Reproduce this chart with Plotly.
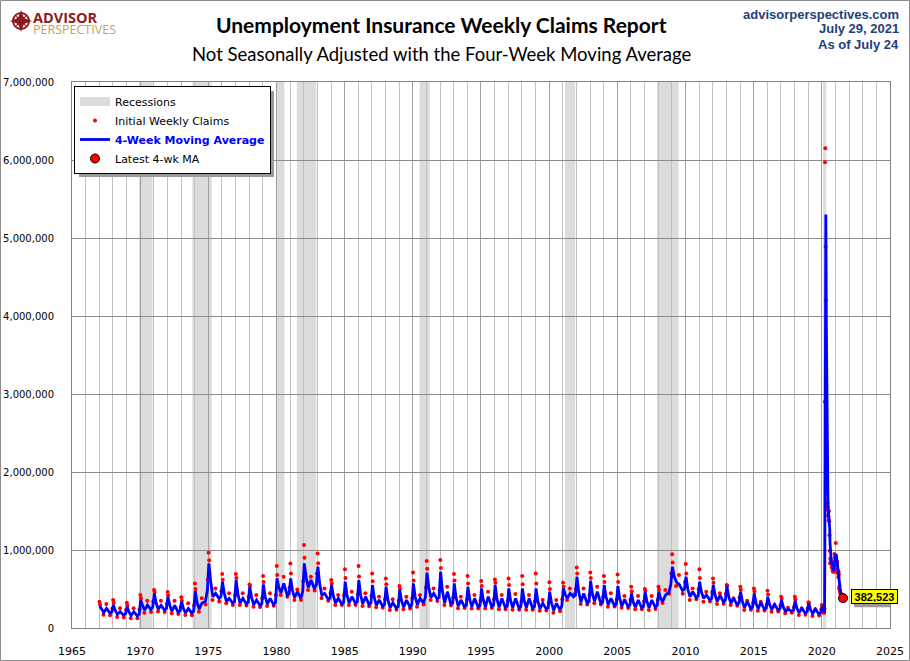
import pandas as pd
import plotly.graph_objects as go

# ---- data (values in thousands) ----
# 1967-2019: values at the seasonal turning points of each year
years = list(range(1967, 2020))

# 4-week moving average
ma_jan = [282, 295, 273, 359, 444, 401, 337, 474, 828, 594,
          615, 529, 559, 636, 636, 828, 786, 551, 594, 615,
          551, 529, 487, 572, 709, 722, 572, 529, 508, 551,
          508, 508, 508, 465, 508, 658, 606, 551, 538, 444,
          465, 465, 786, 658, 594, 551, 538, 465, 444, 401,
          359, 350, 316]
ma_mar = [235, 225, 205, 290, 320, 290, 250, 330, 600, 440,
          430, 390, 400, 520, 480, 650, 560, 410, 420, 420,
          390, 360, 350, 400, 520, 470, 390, 370, 360, 370,
          350, 350, 340, 320, 430, 460, 440, 400, 380, 330,
          340, 380, 660, 500, 460, 420, 400, 340, 320, 300,
          270, 255, 235]
ma_spring = [200, 175, 160, 230, 240, 215, 195, 240, 400, 340,
             320, 300, 305, 450, 390, 520, 420, 320, 320, 310,
             290, 260, 265, 300, 390, 320, 280, 275, 270, 265,
             260, 260, 250, 225, 380, 330, 340, 300, 280, 265,
             260, 340, 590, 400, 380, 340, 320, 260, 245, 235,
             215, 195, 185]
ma_jul = [252, 209, 209, 295, 290, 290, 250, 320, 444, 380,
          380, 359, 380, 572, 465, 615, 444, 380, 402, 402,
          359, 325, 359, 380, 444, 465, 359, 380, 402, 380,
          380, 380, 316, 316, 444, 444, 465, 380, 367, 359,
          359, 423, 560, 465, 423, 420, 380, 340, 330, 300,
          240, 250, 240]
ma_fall = [190, 165, 155, 235, 230, 200, 190, 340, 380, 320,
           310, 290, 300, 420, 380, 500, 370, 310, 315, 300,
           280, 255, 270, 320, 370, 310, 275, 270, 275, 260,
           255, 255, 245, 235, 400, 320, 320, 290, 275, 260,
           265, 460, 480, 390, 360, 330, 300, 250, 240, 230,
           215, 190, 180]
ma_dec = [205, 180, 175, 270, 250, 220, 220, 480, 400, 340,
          330, 310, 330, 440, 470, 560, 380, 330, 335, 320,
          300, 275, 300, 400, 390, 320, 290, 285, 295, 280,
          275, 275, 260, 280, 420, 340, 330, 305, 295, 280,
          290, 560, 500, 410, 380, 360, 320, 270, 255, 245,
          230, 210, 200]

# initial weekly claims
cl_jan = [337, 359, 325, 423, 487, 461, 393, 572, 965, 692,
          692, 559, 666, 794, 828, 1063, 956, 615, 752, 794,
          700, 636, 538, 713, 858, 871, 692, 666, 602, 623,
          636, 666, 700, 585, 581, 777, 713, 666, 687, 529,
          500, 529, 944, 820, 752, 636, 551, 529, 508, 478,
          401, 401, 329]
cl_feb = [300, 320, 290, 380, 460, 420, 350, 500, 870, 620,
          640, 540, 590, 680, 700, 900, 830, 570, 640, 660,
          600, 560, 500, 610, 760, 770, 610, 570, 540, 580,
          550, 560, 570, 500, 530, 700, 640, 590, 590, 470,
          480, 490, 840, 700, 640, 580, 545, 490, 470, 430,
          375, 370, 320]
cl_spring = [170, 140, 125, 195, 210, 188, 167, 209, 359, 316,
             295, 273, 282, 423, 359, 487, 380, 295, 295, 282,
             265, 231, 240, 273, 359, 295, 252, 250, 250, 239,
             235, 235, 222, 196, 359, 307, 316, 273, 260, 239,
             231, 320, 540, 359, 337, 307, 295, 231, 222, 209,
             188, 167, 154]
cl_jul = [307, 252, 252, 350, 350, 350, 316, 380, 508, 444,
          444, 423, 444, 658, 495, 658, 508, 423, 465, 444,
          402, 367, 402, 423, 508, 529, 402, 423, 465, 423,
          435, 423, 359, 359, 508, 508, 529, 444, 410, 410,
          410, 487, 679, 508, 465, 444, 380, 350, 337, 295,
          260, 250, 240]
cl_fall = [165, 135, 125, 205, 205, 180, 165, 300, 340, 295,
           290, 270, 285, 400, 360, 480, 350, 295, 295, 280,
           260, 235, 250, 300, 345, 290, 255, 250, 255, 240,
           235, 235, 225, 215, 430, 300, 300, 275, 255, 240,
           245, 440, 440, 370, 340, 310, 285, 235, 225, 210,
           195, 170, 160]
cl_dec = [250, 230, 240, 340, 310, 270, 290, 620, 470, 420,
          400, 380, 420, 520, 600, 700, 450, 420, 430, 410,
          370, 350, 380, 520, 480, 390, 360, 350, 370, 350,
          340, 340, 320, 370, 500, 420, 400, 370, 360, 340,
          360, 700, 590, 500, 460, 440, 390, 320, 300, 290,
          270, 250, 240]

# weekly detail, week ending Jan 4 2020 - Jul 24 2021
weekly_claims = [295, 290, 260, 245, 240, 225, 210, 200, 195,
                 200, 250, 2900, 5970, 6150, 4890, 4200, 3460,
                 2790, 2320, 2150, 1900, 1600, 1550, 1510, 1450, 1430,
                 1380, 1500, 1370, 1190, 990, 830, 890, 830, 830,
                 870, 820, 830, 780, 770, 840, 730, 730, 740,
                 720, 750, 820, 720, 950, 900, 850, 840,
                 920, 1090, 910, 850, 820, 810, 850, 750, 710,
                 730, 700, 650, 720, 690, 510, 540, 490,
                 470, 440, 390, 370, 360, 360, 390, 370, 360,
                 370, 430, 360, 360]
weekly_ma = [260, 265, 280, 273, 265, 250, 235, 222, 212,
             205, 211, 886, 2330, 3818, 4978, 5302, 4675,
             3885, 3193, 2680, 2290, 1993, 1810, 1650, 1528, 1485,
             1443, 1440, 1420, 1360, 1263, 1095, 975, 885, 845,
             855, 837, 837, 825, 800, 805, 780, 768, 760,
             735, 735, 758, 752, 810, 848, 855, 885,
             885, 945, 940, 943, 918, 848, 822, 808, 780,
             760, 723, 698, 700, 690, 643, 615, 558,
             503, 485, 448, 418, 390, 372, 370, 370, 370,
             372, 388, 383, 382.523]

recession_start = ["1969-12-01", "1973-11-01", "1980-01-01", "1981-07-01",
                   "1990-07-01", "2001-03-01", "2007-12-01", "2020-02-01"]
recession_end = ["1970-11-30", "1975-03-31", "1980-07-31", "1982-11-30",
                 "1991-03-31", "2001-11-30", "2009-06-30", "2020-04-30"]

# ---- build the series ----
ma_days = ["01-15", "03-05", "05-01", "07-15", "10-15", "12-05"]
cl_days = ["01-08", "01-22", "04-25", "07-10", "10-20", "12-18"]
ma_cols = [ma_jan, ma_mar, ma_spring, ma_jul, ma_fall, ma_dec]
cl_cols = [cl_jan, cl_feb, cl_spring, cl_jul, cl_fall, cl_dec]

ma_x, ma_y, cl_x, cl_y = [], [], [], []
for i, yr in enumerate(years):
    for md, col in zip(ma_days, ma_cols):
        ma_x.append(f"{yr}-{md}")
        ma_y.append(col[i] * 1000)
    for md, col in zip(cl_days, cl_cols):
        cl_x.append(f"{yr}-{md}")
        cl_y.append(col[i] * 1000)

weeks = pd.date_range("2020-01-04", periods=len(weekly_ma), freq="7D")
ma_x += [d.strftime("%Y-%m-%d") for d in weeks]
ma_y += [round(v * 1000) for v in weekly_ma]
cl_x += [d.strftime("%Y-%m-%d") for d in weeks]
cl_y += [v * 1000 for v in weekly_claims]

latest_x = ma_x[-1]
latest_y = ma_y[-1]

# ---- figure ----
W, H = 910, 661
ML, MR, MT, MB = 72, 20, 82, 33
PW, PH = W - ML - MR, H - MT - MB


def px(x):
    return (x - ML) / PW


def py(y):
    return 1 - (y - MT) / PH


fig = go.Figure()

fig.add_trace(go.Scatter(x=[None], y=[None], mode="lines", name="Recessions",
                         line=dict(color="#dcdcdc", width=9)))
fig.add_trace(go.Scatter(x=cl_x, y=cl_y, mode="markers", name="Initial Weekly Claims",
                         marker=dict(color="#ff0000", size=4)))
fig.add_trace(go.Scatter(x=ma_x, y=ma_y, mode="lines",
                         name="<span style='color:#0000ff'><b>4-Week Moving Average</b></span>",
                         line=dict(color="#0000ff", width=2.8)))
fig.add_trace(go.Scatter(x=[latest_x], y=[latest_y], mode="markers", name="Latest 4-wk MA",
                         marker=dict(color="#ff0000", size=9, line=dict(color="black", width=1))))

shapes = []
for s, e in zip(recession_start, recession_end):
    shapes.append(dict(type="rect", xref="x", yref="paper", x0=s, x1=e, y0=0, y1=1,
                       fillcolor="#dcdcdc", line=dict(width=0), layer="below"))

# outer frame of the image
shapes.append(dict(type="rect", xref="paper", yref="paper",
                   x0=px(0.5), x1=px(W - 0.5), y0=py(H - 0.5), y1=py(0.5),
                   line=dict(color="#8c8c8c", width=1)))
# legend drop shadow
shapes.append(dict(type="rect", xref="paper", yref="paper",
                   x0=px(79), x1=px(274), y0=py(177), y1=py(91),
                   fillcolor="#9a9a9a", line=dict(width=0), layer="above"))
# shadow of the latest-value label
shapes.append(dict(type="rect", xref="x", yref="y", xsizemode="pixel", ysizemode="pixel",
                   xanchor=latest_x, yanchor=latest_y, x0=11, x1=58, y0=-9, y1=6,
                   fillcolor="#9a9a9a", line=dict(width=0), layer="above"))

# logo mark (compass rose)
logo_red = "#8b1c1c"
shapes.append(dict(type="circle", xref="paper", yref="paper", xsizemode="pixel",
                   ysizemode="pixel", xanchor=px(21), yanchor=py(21),
                   x0=-8, x1=8, y0=-8, y1=8, line=dict(color=logo_red, width=2)))
shapes.append(dict(type="path", xref="paper", yref="paper", xsizemode="pixel",
                   ysizemode="pixel", xanchor=px(21), yanchor=py(21),
                   path="M0,11 L3,3 L11,0 L3,-3 L0,-11 L-3,-3 L-11,0 L-3,3 Z",
                   fillcolor=logo_red, line=dict(width=0)))
shapes.append(dict(type="path", xref="paper", yref="paper", xsizemode="pixel",
                   ysizemode="pixel", xanchor=px(21), yanchor=py(21),
                   path="M6,6 L0,2 L-6,6 L-2,0 L-6,-6 L0,-2 L6,-6 L2,0 Z",
                   fillcolor=logo_red, line=dict(width=0)))

label = f"{latest_y:,.0f}"
navy = "#23407a"
logo_text = (f"<span style='font-size:14.5px;color:{logo_red}'><b>ADVISOR</b></span><br>"
             "<span style='font-size:12.5px;color:#c4a55a'>PERSPECTIVES</span>")
annotations = [
    dict(x=latest_x, y=latest_y, text=f"<b>{label}</b>", showarrow=False,
         xanchor="left", yanchor="middle", xshift=8, yshift=1.5, width=43, height=11,
         bgcolor="#ffff00", bordercolor="black", borderwidth=1, borderpad=1,
         font=dict(family="Liberation Sans", size=11, color="black")),
    dict(xref="paper", yref="paper", x=px(441), y=py(25), xanchor="center", yanchor="middle",
         text="<b>Unemployment Insurance Weekly Claims Report</b>", showarrow=False,
         font=dict(family="Lato", size=21, color="black")),
    dict(xref="paper", yref="paper", x=px(441), y=py(54), xanchor="center", yanchor="middle",
         text="Not Seasonally Adjusted with the Four-Week Moving Average", showarrow=False,
         font=dict(family="Lato", size=18.5, color="black")),
    dict(xref="paper", yref="paper", x=px(31), y=py(23), xanchor="left", yanchor="middle",
         align="left", text=logo_text, showarrow=False,
         font=dict(family="Open Sans", size=8.5, color=logo_red)),
]
for txt, yy in zip(["advisorperspectives.com", "July 29, 2021", "As of July 24"], [14, 29, 44]):
    annotations.append(dict(xref="paper", yref="paper", x=px(901), y=py(yy),
                            xanchor="right", yanchor="middle", showarrow=False,
                            text=f"<b>{txt}</b>",
                            font=dict(family="Liberation Sans", size=13, color=navy)))

fig.update_layout(
    width=W, height=H,
    margin=dict(l=ML, r=MR, t=MT, b=MB, autoexpand=False),
    paper_bgcolor="white", plot_bgcolor="white",
    shapes=shapes, annotations=annotations,
    showlegend=True,
    legend=dict(x=px(74), y=py(86), xanchor="left", yanchor="top",
                bgcolor="white", bordercolor="black", borderwidth=1,
                font=dict(family="DejaVu Sans", size=11, color="black"),
                tracegroupgap=0, itemwidth=30),
    font=dict(family="DejaVu Sans", color="black"),
)

fig.update_xaxes(
    type="date", range=["1965-01-01", "2025-01-01"],
    tick0="1965-01-01", dtick="M60", tickformat="%Y",
    showgrid=True, gridcolor="#a0a0a0", gridwidth=1,
    minor=dict(dtick="M12", showgrid=True, gridcolor="#c0c0c0", gridwidth=1),
    showline=True, linecolor="#808080", mirror=True, linewidth=1,
    ticks="", ticklabelstandoff=13, tickfont=dict(family="DejaVu Sans", size=11),
    zeroline=False, automargin=False,
)
fig.update_yaxes(
    range=[0, 7000000], dtick=1000000, tickformat=",",
    showgrid=True, gridcolor="#8c8c8c", gridwidth=1,
    showline=True, linecolor="#808080", mirror=True, linewidth=1,
    ticks="", ticklabelstandoff=15, tickfont=dict(family="DejaVu Sans", size=10),
    zeroline=False, automargin=False,
)

fig.write_html("out.html", config={"displayModeBar": False},
               post_script="document.body.style.margin='0';")
